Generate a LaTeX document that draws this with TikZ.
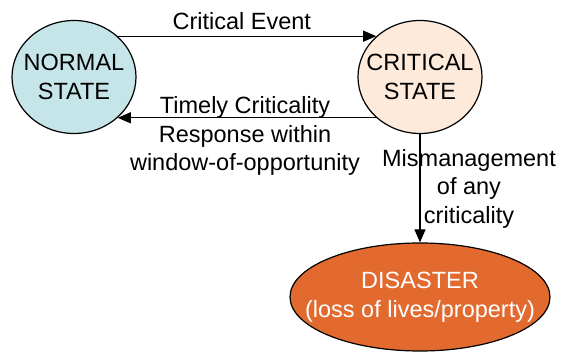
\documentclass[tikz,border=0pt]{standalone}
\usepackage{fontspec}
\setmainfont{Liberation Sans}
\usetikzlibrary{positioning,arrows.meta,shapes.geometric}
\definecolor{normalblue}{RGB}{197,229,232}
\definecolor{critpeach}{RGB}{253,234,218}
\definecolor{disorange}{RGB}{226,106,46}
\tikzset{
  stnode/.style={ellipse,draw=black,line width=1.2pt,inner sep=0pt,minimum width=124pt,minimum height=113pt},
  sttxt/.style={align=center,inner sep=0pt},
  trans/.style={line width=1.2pt,-{Triangle[length=13pt,width=11pt]}},
  tlab/.style={align=center,inner sep=0pt}
}

\begin{document}
\begin{tikzpicture}[x=1pt,y=-1pt,font=\fontsize{23.5}{28.5}\selectfont]
  \useasboundingbox (0,0) rectangle (563,352);
  \node[stnode,fill=normalblue,label={[sttxt]center:{NORMAL\\STATE}}] (normal) at (74,77) {};
  \node[stnode,fill=critpeach,label={[sttxt]center:{CRITICAL\\STATE}}] (critical) at (420,77) {};
  \node[stnode,fill=disorange,minimum width=260pt,minimum height=108pt,
        label={[sttxt,text=white]center:{DISASTER\\(loss of lives/property)}}] (disaster) at (420,297) {};
  \draw[trans] (normal.43) -- node[tlab,above=6pt,pos=0.48] (evt) {Critical Event} (critical.137);
  \draw[trans] (critical.223) -- (normal.317);
  \node[tlab,anchor=north] (resp) at (245,96.5) {Timely Criticality\\Response within\\window-of-opportunity};
  \draw[trans] (critical) -- (disaster);
  \node[tlab,anchor=north] (mism) at (469,149) {Mismanagement\\of any\\criticality};
\end{tikzpicture}
\end{document}
